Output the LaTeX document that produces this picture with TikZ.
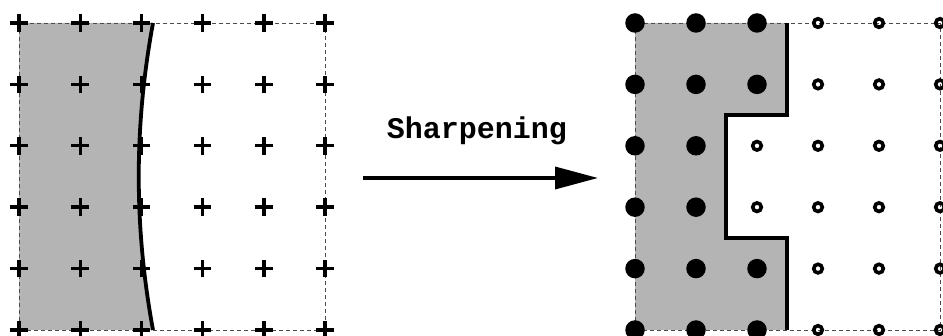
\documentclass[tikz,border=0pt]{standalone}
\usepackage{fontspec}
\setmonofont{Liberation Mono}
\usetikzlibrary{arrows.meta,shapes.misc}
\definecolor{hatchgray}{HTML}{B4B4B4}

\begin{document}
\begin{tikzpicture}[
    x=1pt, y=-1pt,
    >={Triangle[length=43pt, width=22pt]},
    plusmark/.style={draw, cross out, rotate=45, line width=3.4pt, minimum size=9pt, inner sep=0pt},
    fulldot/.style={circle, fill, minimum size=19.5pt, inner sep=0pt},
    opendot/.style={circle, draw, line width=3.6pt, minimum size=8.6pt, inner sep=0pt},
    frame/.style={black!70, line width=0.8pt, dash pattern=on 4pt off 3pt},
    edge/.style={line width=3.8pt},
]
    \useasboundingbox (0,0) rectangle (943,336);
    \clip (0,0) rectangle (943,336);

    % --- Before: smooth edge ---
    \fill[hatchgray] (19,23) -- (153,23) .. controls (134,126) and (134,227) .. (153,330) -- (19,330) -- cycle;
    \draw[frame] (19,23) rectangle (325,330);
    \draw[edge] (153,23) .. controls (134,126) and (134,227) .. (153,330);
    \foreach \i in {0,...,5}
        \foreach \j in {0,...,5}
            \node[plusmark] (a-\i-\j) at ({19+61.2*\i}, {23+61.4*\j}) {};

    % --- After: staircase edge ---
    \fill[hatchgray] (635,23) -- (787,23) -- (787,115) -- (726,115) -- (726,238)
        -- (787,238) -- (787,330) -- (635,330) -- cycle;
    \draw[frame] (635,23) rectangle (940,330);
    \draw[edge] (787,23) -- (787,115) -- (726,115) -- (726,238) -- (787,238) -- (787,330);
    \foreach \j in {0,...,5} {
        \foreach \i in {0,1}
            \node[fulldot] (b-\i-\j) at ({635+61*\i}, {23+61.4*\j}) {};
        \foreach \i in {3,4,5}
            \node[opendot] (b-\i-\j) at ({635+61*\i}, {23+61.4*\j}) {};
    }
    \foreach \j in {0,1,4,5}
        \node[fulldot] (b-2-\j) at (757, {23+61.4*\j}) {};
    \foreach \j in {2,3}
        \node[opendot] (b-2-\j) at (757, {23+61.4*\j}) {};

    % --- Arrow ---
    \coordinate (start) at (363,178);
    \coordinate (end) at (598,178);
    \node[font=\fontsize{30}{36}\selectfont\ttfamily\bfseries] (label) at (477,131) {Sharpening};
    \draw[->, line width=3.5pt] (start) -- (end);

\end{tikzpicture}
\end{document}
